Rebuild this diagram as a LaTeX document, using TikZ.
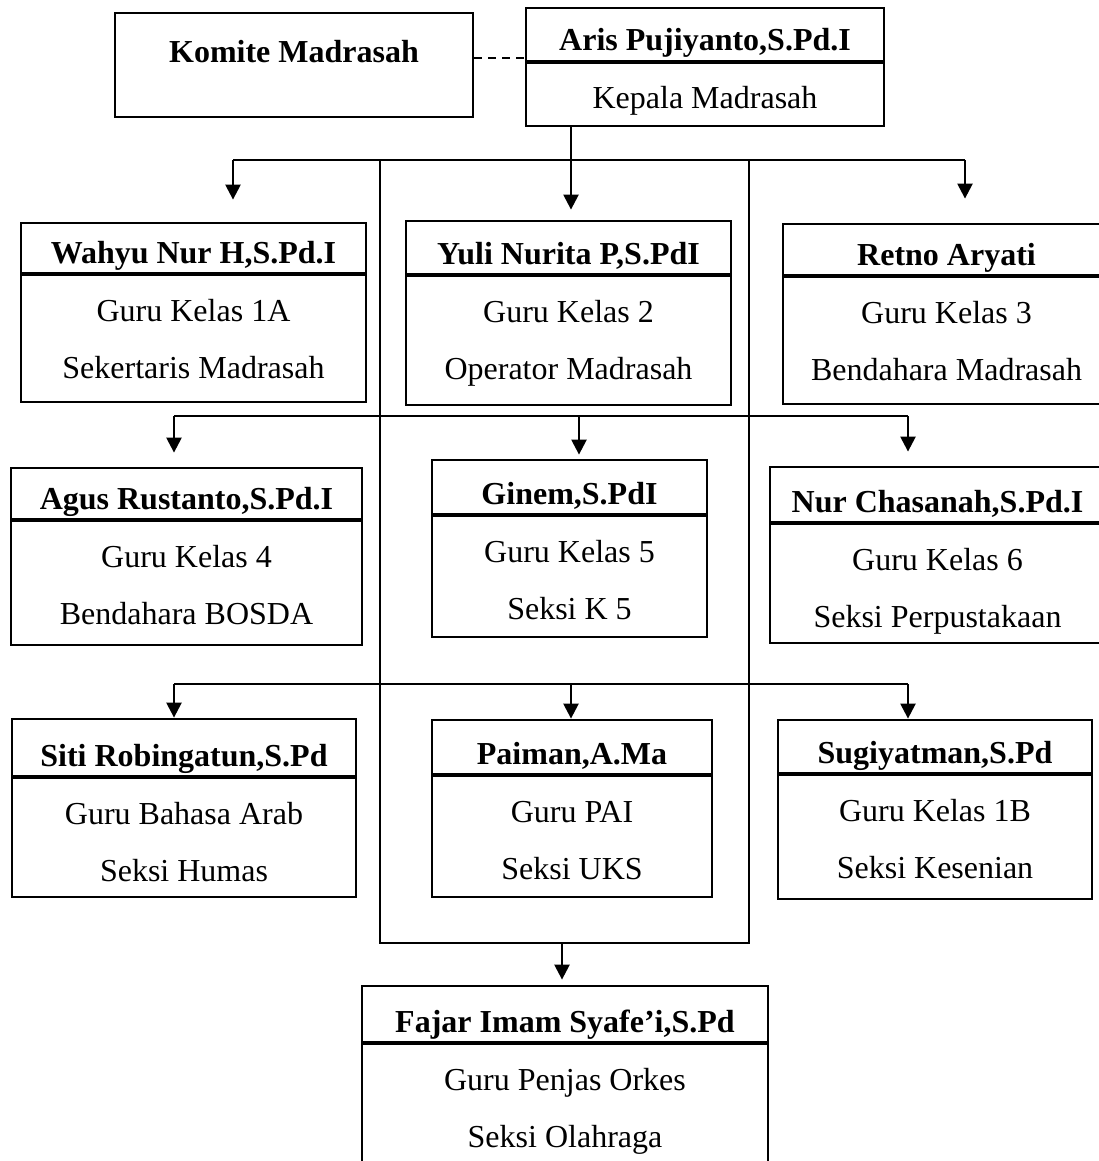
\documentclass[tikz,border=0pt]{standalone}
\usepackage{fontspec}
\setmainfont{Liberation Serif}
\usetikzlibrary{arrows.meta}

\newcommand{\chartfont}{\fontsize{32}{38}\selectfont}
% #1 id, #2 #3 top left, #4 #5 bottom right, #6 divider, #7 name, #8 #9 duties
\newcommand{\staffbox}[9]{%
  \node[staff, minimum width={#4pt-#2pt}, minimum height={#5pt-#3pt}] (#1) at ({(#2+#4)/2},{(#3+#5)/2}) {};
  \draw[divider] (#2,#6) -- (#4,#6);
  \node[nametxt] (#1-name) at ({(#2+#4)/2},{#6-11}) {#7};
  \node[txt] (#1-a) at ({(#2+#4)/2},{#6+47}) {#8};
  \node[txt] (#1-b) at ({(#2+#4)/2},{#6+104}) {#9};
}

\begin{document}
\begin{tikzpicture}[x=1pt, y=-1pt,
    staff/.style={draw, line width=2.8pt, inner sep=0pt},
    divider/.style={line width=3.8pt},
    txt/.style={anchor=base, inner sep=0pt, font=\chartfont},
    nametxt/.style={txt, font=\chartfont\bfseries},
    wire/.style={line width=2.4pt},
    link/.style={line width=2.4pt, -{Triangle[width=15pt,length=15pt]}},
    dashline/.style={line width=2pt, dash pattern=on 8pt off 6pt}]
    \clip (0,0) rectangle (1099,1161);

    % top
    \node[staff, minimum width=358pt, minimum height=104pt] (komite) at (294,65) {};
    \node[nametxt] (komite-name) at (294,63) {Komite Madrasah};
    \node[staff, minimum width=358pt, minimum height=118pt] (aris) at (705,67) {};
    \draw[divider] (526,62) -- (884,62);
    \node[nametxt] (aris-name) at (705,51) {Aris Pujiyanto,S.Pd.I};
    \node[txt] (aris-a) at (705,109) {Kepala Madrasah};

    % staff boxes
    \staffbox{wahyu}{21}{223}{366}{402}{274}{Wahyu Nur H,S.Pd.I}{Guru Kelas 1A}{Sekertaris Madrasah}
    \staffbox{yuli}{406}{221}{731}{405}{275}{Yuli Nurita P,S.PdI}{Guru Kelas 2}{Operator Madrasah}
    \staffbox{retno}{783}{224}{1110}{404}{276}{Retno Aryati}{Guru Kelas 3}{Bendahara Madrasah}
    \staffbox{agus}{11}{468}{362}{645}{520}{Agus Rustanto,S.Pd.I}{Guru Kelas 4}{Bendahara BOSDA}
    \staffbox{ginem}{432}{460}{707}{637}{515}{Ginem,S.PdI}{Guru Kelas 5}{Seksi K 5}
    \staffbox{nur}{770}{467}{1105}{643}{523}{Nur Chasanah,S.Pd.I}{Guru Kelas 6}{Seksi Perpustakaan}
    \staffbox{siti}{12}{719}{356}{897}{777}{Siti Robingatun,S.Pd}{Guru Bahasa Arab}{Seksi Humas}
    \staffbox{paiman}{432}{720}{712}{897}{775}{Paiman,A.Ma}{Guru PAI}{Seksi UKS}
    \staffbox{sugi}{778}{720}{1092}{899}{774}{Sugiyatman,S.Pd}{Guru Kelas 1B}{Seksi Kesenian}
    \staffbox{fajar}{362}{986}{768}{1175}{1043}{Fajar Imam Syafe'i,S.Pd}{Guru Penjas Orkes}{Seksi Olahraga}

    % lines
    \coordinate (dash) at (0,58);
    \coordinate (top-l) at (233,160);
    \coordinate (top-m) at (571,160);
    \coordinate (top-r) at (965,160);
    \coordinate (mid-l) at (174,416);
    \coordinate (mid-m) at (579,416);
    \coordinate (mid-r) at (908,416);
    \coordinate (low-l) at (174,684);
    \coordinate (low-m) at (571,684);
    \coordinate (low-r) at (908,684);
    \coordinate (frame-l) at (380,160);
    \coordinate (frame-r) at (749,160);
    \coordinate (frame-b) at (562,943);

    \draw[dashline] (komite.east |- dash) -- (aris.west |- dash);
    \draw[wire] (top-l) -- (top-r);
    \draw[wire] (frame-l) -- (frame-l |- frame-b) -- (frame-r |- frame-b) -- (frame-r);
    \draw[wire] (mid-l) -- (mid-r);
    \draw[wire] (low-l) -- (low-r);

    \draw[link, shorten >=10pt] (top-m |- aris.south) -- (top-m |- yuli.north);
    \draw[link, shorten >=22pt] (top-l) -- (top-l |- wahyu.north);
    \draw[link, shorten >=24pt] (top-r) -- (top-r |- retno.north);
    \draw[link, shorten >=14pt] (mid-l) -- (mid-l |- agus.north);
    \draw[link, shorten >=4pt] (mid-m) -- (mid-m |- ginem.north);
    \draw[link, shorten >=14pt] (mid-r) -- (mid-r |- nur.north);
    \draw[link] (low-l) -- (low-l |- siti.north);
    \draw[link] (low-m) -- (low-m |- paiman.north);
    \draw[link] (low-r) -- (low-r |- sugi.north);
    \draw[link, shorten >=5pt] (frame-b) -- (frame-b |- fajar.north);
\end{tikzpicture}
\end{document}
